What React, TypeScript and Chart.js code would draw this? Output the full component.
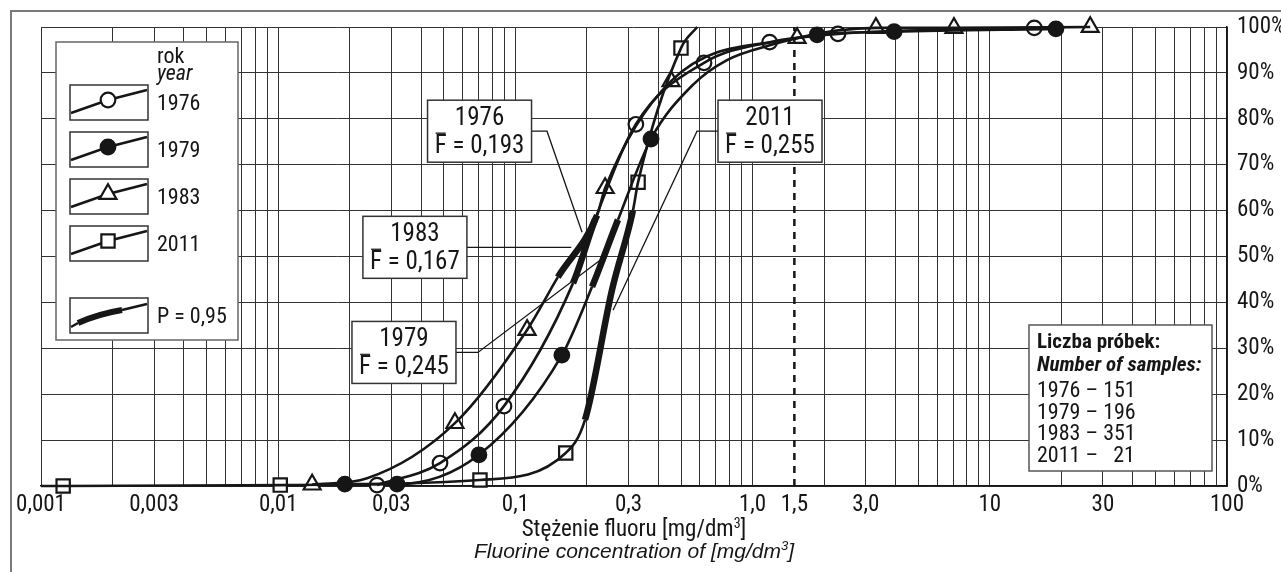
import React, { useEffect, useRef } from "react";
import { Chart, registerables } from "chart.js";

Chart.register(...registerables);

const FONT = '"Liberation Sans Narrow", "Arial Narrow", "Roboto Condensed", "DejaVu Sans Condensed", sans-serif';
const FONT_WIDE = '"Liberation Sans", Arial, Helvetica, sans-serif';

// ---- axis ticks ----
const X_LABEL_VALUES = [0.001, 0.003, 0.01, 0.03, 0.1, 0.3, 1, 1.5, 3, 10, 30, 100];
const X_LABELS = ["0,001", "0,003", "0,01", "0,03", "0,1", "0,3", "1,0", "1,5", "3,0", "10", "30", "100"];
const X_DECADES = [0.001, 0.01, 0.1, 1, 10];
const X_MANTISSAS = [1, 2, 3, 4, 5, 6, 7, 8, 9];
const Y_STEP = 10;

// ---- markers (measured points) [concentration mg/dm3, cumulative %] ----
const M1976 = [[0.0261, 0.2], [0.0481, 5], [0.0895, 17.4], [0.322, 78.8], [0.624, 92.2], [1.18, 96.7], [2.29, 98.5], [15.4, 99.8]];
const M1979 = [[0.0191, 0.4], [0.0317, 0.4], [0.0702, 6.8], [0.157, 28.5], [0.373, 75.6], [1.87, 98.3], [3.95, 99.0], [19.0, 99.6]];
const M1983 = [[0.0139, 0.3], [0.0556, 13.7], [0.112, 34], [0.239, 64.9], [0.453, 88.2], [1.54, 97.6], [3.31, 99.8], [7.06, 99.8], [26.5, 100]];
const M2011 = [[0.00124, 0], [0.0102, 0.2], [0.0709, 1.3], [0.163, 7.2], [0.329, 66.2], [0.499, 95.4]];

// ---- fitted curves ----
const C1976 = [[0.0261, 0.2], [0.0481, 5], [0.0895, 17.4], [0.175, 44.2], [0.2165, 58], [0.322, 78.8], [0.624, 92.2], [1.18, 96.7], [2.29, 98.5], [15.4, 99.8]];
const C1979 = [[0.0191, 0.4], [0.0317, 0.4], [0.0702, 6.8], [0.157, 28.5], [0.2104, 43.4], [0.2707, 58], [0.373, 75.6], [0.56, 87.4], [0.78, 92.8], [1.18, 96.0], [1.87, 98.3], [3.95, 99.0], [19.0, 99.6]];
const C1983 = [[0.0139, 0.3], [0.0237, 1.7], [0.0556, 13.7], [0.112, 34], [0.151, 45.5], [0.221, 59], [0.239, 64.9], [0.453, 88.2], [1.54, 97.6], [3.31, 99.8], [7.06, 99.8], [26.5, 100]];
const C2011 = [[0.001, 0], [0.00124, 0], [0.0102, 0.2], [0.0709, 1.3], [0.163, 7.2], [0.1965, 14.4], [0.2554, 42.7], [0.313, 60], [0.329, 66.2], [0.499, 95.4], [0.584, 100]];

// ---- P = 0,95 ranges (thick parts of the curves) ----
const P95_1976 = [0.175, 0.2165];
const P95_1979 = [0.2104, 0.2707];
const P95_1983 = [0.151, 0.221];
const P95_2011 = [0.1965, 0.313];

// ---- limit line ----
const LIMIT = [[1.5, 0], [1.5, 100]];

// ---- annotations ----
const YEARS = ["1976", "1979", "1983", "2011"];
const MEANS = ["0,193", "0,245", "0,167", "0,255"];
const SAMPLES = ["151", "196", "351", "  21"];
const NOTE_AT = [[0.0706, 77.3], [0.0339, 29.1], [0.0377, 52.0], [1.184, 77.3]];
const NOTE_LEADERS = [
  [[0.1359, 77.3], [0.191, 55.3]],
  [[0.0695, 29.1], [0.2274, 49.2]],
  [[0.172, 52.0]],
  [[0.583, 77.3], [0.258, 38.3]],
];
const NOTE_SIDE = ["right", "right", "right", "left"];

const INK = "#161616";
const R_CIRCLE = 7.3;
const R_TRI = 9.8;
const R_RECT = 9.4;

function toXY(arr: number[][]) {
  return arr.map(([x, y]) => ({ x, y }));
}

function drawMarker(ctx: CanvasRenderingContext2D, style: string, x: number, y: number, r: number, fill: string) {
  ctx.save();
  ctx.beginPath();
  if (style === "circle") {
    ctx.arc(x, y, r, 0, Math.PI * 2);
  } else if (style === "triangle") {
    let rad = 0;
    ctx.moveTo(x + Math.sin(rad) * r, y - Math.cos(rad) * r);
    rad += (2 * Math.PI) / 3;
    ctx.lineTo(x + Math.sin(rad) * r, y - Math.cos(rad) * r);
    rad += (2 * Math.PI) / 3;
    ctx.lineTo(x + Math.sin(rad) * r, y - Math.cos(rad) * r);
    ctx.closePath();
  } else {
    const s = r / Math.SQRT2;
    ctx.rect(x - s, y - s, 2 * s, 2 * s);
  }
  ctx.fillStyle = fill;
  ctx.fill();
  ctx.lineWidth = 2.2;
  ctx.strokeStyle = INK;
  ctx.stroke();
  ctx.restore();
}

const overlayPlugin = {
  id: "overlay",
  afterDraw(chart: any) {
    const ctx: CanvasRenderingContext2D = chart.ctx;
    const xs = chart.scales.x;
    const ys = chart.scales.y;
    const area = chart.chartArea;
    const px = (v: number) => xs.getPixelForValue(v);
    const py = (v: number) => ys.getPixelForValue(v);
    ctx.save();

    // outer frame
    ctx.strokeStyle = "#7a7a7a";
    ctx.lineWidth = 2;
    ctx.beginPath();
    ctx.moveTo(11, chart.height);
    ctx.lineTo(11, 11);
    ctx.lineTo(chart.width, 11);
    ctx.stroke();

    // axis titles
    const cx = (area.left + area.right) / 2;
    const drawTitle = (pre: string, sup: string, post: string, baseline: number, font: string) => {
      const f = font;
      const fs = font.replace(/(\d+)px/, (_m, n) => `${Math.round(Number(n) * 0.62)}px`);
      ctx.font = f;
      const w1 = ctx.measureText(pre).width;
      const w3 = ctx.measureText(post).width;
      ctx.font = fs;
      const w2 = ctx.measureText(sup).width;
      let x = cx - (w1 + w2 + w3) / 2;
      ctx.fillStyle = INK;
      ctx.textAlign = "left";
      ctx.textBaseline = "alphabetic";
      ctx.font = f;
      ctx.fillText(pre, x, baseline);
      x += w1;
      ctx.font = fs;
      ctx.fillText(sup, x, baseline - 8);
      x += w2;
      ctx.font = f;
      ctx.fillText(post, x, baseline);
    };
    drawTitle("Stężenie fluoru [mg/dm", "3", "]", 536, `23px ${FONT}`);
    drawTitle("Fluorine concentration of [mg/dm", "3", "]", 558, `italic 21px ${FONT_WIDE}`);

    // annotation boxes with mean values
    const BW = 104, BH = 62;
    YEARS.forEach((yr, i) => {
      const bx = px(NOTE_AT[i][0]) - BW / 2;
      const by = py(NOTE_AT[i][1]) - BH / 2;
      const cy = by + BH / 2;
      ctx.strokeStyle = INK;
      ctx.lineWidth = 1.3;
      ctx.beginPath();
      ctx.moveTo(NOTE_SIDE[i] === "right" ? bx + BW : bx, cy);
      NOTE_LEADERS[i].forEach(([lx, ly], k) => {
        ctx.lineTo(px(lx), k === 0 ? cy : py(ly));
      });
      ctx.stroke();
      ctx.fillStyle = "#fff";
      ctx.fillRect(bx, by, BW, BH);
      ctx.strokeStyle = "#333";
      ctx.lineWidth = 1.5;
      ctx.strokeRect(bx, by, BW, BH);
      ctx.fillStyle = INK;
      ctx.font = `25px ${FONT}`;
      ctx.textBaseline = "alphabetic";
      ctx.textAlign = "center";
      ctx.fillText(yr, bx + BW / 2, by + 25);
      ctx.textAlign = "left";
      const rest = " = " + MEANS[i];
      const wF = ctx.measureText("F").width;
      const wR = ctx.measureText(rest).width;
      const sx = bx + BW / 2 - (wF + wR) / 2;
      ctx.fillText("F", sx, by + 53);
      ctx.fillText(rest, sx + wF, by + 53);
      ctx.beginPath();
      ctx.lineWidth = 1.5;
      ctx.moveTo(sx + 1, by + 33);
      ctx.lineTo(sx + wF - 1, by + 33);
      ctx.stroke();
    });

    // legend
    const LX = 56, LY = 42, LW = 182, LH = 298;
    ctx.fillStyle = "#fff";
    ctx.fillRect(LX, LY, LW, LH);
    ctx.strokeStyle = "#666";
    ctx.lineWidth = 1.5;
    ctx.strokeRect(LX, LY, LW, LH);
    ctx.fillStyle = INK;
    ctx.textAlign = "left";
    ctx.textBaseline = "alphabetic";
    ctx.font = `22px ${FONT}`;
    ctx.fillText("rok", 157, 63);
    ctx.font = `italic 22px ${FONT}`;
    ctx.fillText("year", 157, 80);
    const styles = ["circle", "circle", "triangle", "rect"];
    const fills = ["#fff", INK, "#fff", "#fff"];
    const radii = [R_CIRCLE, R_CIRCLE, R_TRI, R_RECT];
    const sampleTops = [85, 132, 179, 226];
    const legendYears = ["1976", "1979", "1983", "2011"];
    sampleTops.forEach((t, i) => {
      const x0 = 70;
      ctx.strokeStyle = "#333";
      ctx.lineWidth = 1.5;
      ctx.strokeRect(x0, t, 78, 35);
      ctx.strokeStyle = INK;
      ctx.lineWidth = 2.5;
      ctx.beginPath();
      ctx.moveTo(x0 + 1, t + 28);
      ctx.lineTo(x0 + 38, t + 15);
      ctx.lineTo(x0 + 77, t + 5);
      ctx.stroke();
      drawMarker(ctx, styles[i], x0 + 38, t + 15, radii[i], fills[i]);
      ctx.fillStyle = INK;
      ctx.font = `22px ${FONT}`;
      ctx.textBaseline = "middle";
      ctx.fillText(legendYears[i], 157, t + 19);
    });
    {
      const x0 = 70, t = 298;
      ctx.strokeStyle = "#333";
      ctx.lineWidth = 1.5;
      ctx.strokeRect(x0, t, 78, 35);
      ctx.strokeStyle = INK;
      ctx.lineWidth = 2.5;
      ctx.beginPath();
      ctx.moveTo(x0 + 1, t + 29);
      ctx.lineTo(x0 + 8, t + 25);
      ctx.stroke();
      ctx.lineWidth = 6;
      ctx.beginPath();
      ctx.moveTo(x0 + 8, t + 25);
      ctx.quadraticCurveTo(x0 + 28, t + 16, x0 + 52, t + 12);
      ctx.stroke();
      ctx.lineWidth = 2.5;
      ctx.beginPath();
      ctx.moveTo(x0 + 52, t + 12);
      ctx.lineTo(x0 + 77, t + 6);
      ctx.stroke();
      ctx.fillStyle = INK;
      ctx.font = `22px ${FONT}`;
      ctx.textBaseline = "middle";
      ctx.fillText("P = 0,95", 157, t + 19);
    }

    // number of samples box
    const SX = 1029, SY = 325, SW = 183, SH = 146;
    ctx.fillStyle = "#fff";
    ctx.fillRect(SX, SY, SW, SH);
    ctx.strokeStyle = "#555";
    ctx.lineWidth = 1.5;
    ctx.strokeRect(SX, SY, SW, SH);
    ctx.fillStyle = INK;
    ctx.textBaseline = "alphabetic";
    ctx.textAlign = "left";
    ctx.font = `bold 21px ${FONT}`;
    ctx.fillText("Liczba próbek:", 1037, 348);
    ctx.font = `italic bold 21px ${FONT}`;
    ctx.fillText("Number of samples:", 1037, 371);
    ctx.font = `22px ${FONT}`;
    YEARS.forEach((yr, i) => {
      ctx.fillText(`${yr} – ${SAMPLES[i]}`, 1037, 397 + i * 21.7);
    });

    ctx.restore();
  },
};

function gridValues() {
  const out: number[] = [];
  X_DECADES.forEach((d) => X_MANTISSAS.forEach((m) => out.push(Number((m * d).toPrecision(6)))));
  out.push(100);
  out.push(1.5);
  return out.sort((a, b) => a - b);
}

function labelFor(v: number) {
  const i = X_LABEL_VALUES.findIndex((t) => Math.abs(Math.log10(t) - Math.log10(v)) < 1e-6);
  return i >= 0 ? X_LABELS[i] : "";
}

export default function App() {
  const ref = useRef<HTMLCanvasElement | null>(null);

  useEffect(() => {
    if (!ref.current) return;
    const curve = (data: number[][], range: number[]) => ({
      type: "scatter",
      data: toXY(data),
      showLine: true,
      borderColor: INK,
      borderWidth: 2.6,
      pointRadius: 0,
      pointHoverRadius: 0,
      cubicInterpolationMode: "monotone",
      clip: false,
      segment: {
        borderWidth: (ctx: any) => {
          const a = data[ctx.p0DataIndex][0];
          const b = data[ctx.p1DataIndex][0];
          return a >= range[0] * 0.999 && b <= range[1] * 1.001 ? 6.5 : 2.6;
        },
      },
    });
    const marks = (data: number[][], style: string, fill: string, r: number) => ({
      type: "scatter",
      data: toXY(data),
      showLine: false,
      pointStyle: style,
      pointRadius: r,
      pointHoverRadius: r,
      pointBackgroundColor: fill,
      pointBorderColor: INK,
      pointBorderWidth: 2.2,
      clip: false,
    });

    const chart = new Chart(ref.current, {
      type: "scatter",
      data: {
        datasets: [
          {
            type: "scatter",
            data: toXY(LIMIT),
            showLine: true,
            borderColor: INK,
            borderWidth: 2.5,
            borderDash: [7, 6],
            pointRadius: 0,
          },
          curve(C2011, P95_2011),
          curve(C1983, P95_1983),
          curve(C1979, P95_1979),
          curve(C1976, P95_1976),
          marks(M2011, "rect", "#fff", R_RECT),
          marks(M1983, "triangle", "#fff", R_TRI),
          marks(M1979, "circle", INK, R_CIRCLE),
          marks(M1976, "circle", "#fff", R_CIRCLE),
        ] as any,
      },
      options: {
        responsive: false,
        animation: false,
        events: [],
        layout: { padding: { left: 41, top: 27, right: 0, bottom: 0 } },
        plugins: { legend: { display: false }, tooltip: { enabled: false }, title: { display: false } },
        scales: {
          x: {
            type: "logarithmic",
            min: 0.001,
            max: 100,
            afterBuildTicks: (s: any) => {
              s.ticks = gridValues().map((v) => ({ value: v }));
            },
            afterFit: (s: any) => {
              s.height = 86;
            },
            ticks: {
              autoSkip: false,
              maxRotation: 0,
              minRotation: 0,
              padding: 5,
              color: INK,
              font: { family: FONT, size: 23 },
              callback: (v: any) => labelFor(Number(v)),
            },
            grid: {
              drawTicks: false,
              color: (c: any) => (c.tick && Math.abs(c.tick.value - 1.5) < 1e-9 ? "rgba(0,0,0,0)" : "#333"),
              lineWidth: 1,
            },
            border: { color: INK, width: 1.5 },
          },
          y: {
            type: "linear",
            position: "right",
            min: 0,
            max: 100,
            afterFit: (s: any) => {
              s.width = 54;
            },
            ticks: {
              stepSize: Y_STEP,
              padding: 10,
              color: INK,
              font: { family: FONT, size: 23 },
              callback: (v: any) => `${v}%`,
            },
            grid: { drawTicks: false, color: "#333", lineWidth: 1 },
            border: { color: INK, width: 1.5 },
          },
        },
      } as any,
      plugins: [overlayPlugin],
    });
    return () => chart.destroy();
  }, []);

  return (
    <div style={{ position: "fixed", left: 0, top: 0, width: 1281, height: 572, background: "#fff" }}>
      <canvas ref={ref} width={1281} height={572} style={{ display: "block" }} />
    </div>
  );
}
